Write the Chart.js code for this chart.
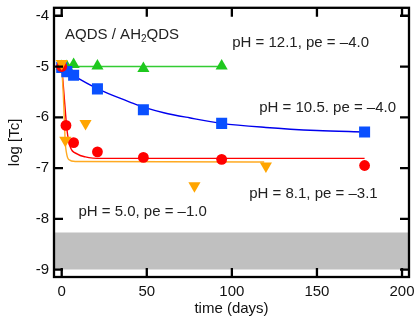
<!DOCTYPE html>
<html>
<head>
<meta charset="utf-8">
<script src="https://cdn.jsdelivr.net/npm/chart.js@4.4.1/dist/chart.umd.min.js"></script>
<style>
html, body { margin: 0; padding: 0; background: #fff; }
canvas { display: block; }
</style>
</head>
<body>
<canvas id="graficoTc" width="417" height="322"></canvas>
<script>
var xTicks = [0, 50, 100, 150, 200];
var yTicks = [-9, -8, -7, -6, -5, -4];

// pontos medidos: tempo (dias) e log [Tc]
var diasVerde = [0, 3, 7, 21, 48, 94];
var logVerde = [-5.0, -5.0, -4.96, -4.99, -5.04, -4.99];

var diasAzul = [0, 3, 7, 21, 48, 94, 178];
var logAzul = [-5.02, -5.1, -5.17, -5.44, -5.85, -6.12, -6.29];

var diasVermelho = [0, 2.5, 7, 21, 48, 94, 178];
var logVermelho = [-5.0, -6.16, -6.5, -6.68, -6.79, -6.83, -6.95];

var diasLaranja = [0, 2.1, 14, 78, 120];
var logLaranja = [-4.94, -6.45, -6.12, -7.35, -6.96];

// curvas ajustadas
var curvaVerdeX = [0, 94];
var curvaVerdeY = [-5.0, -5.0];

var curvaAzulX = [0, 5, 10, 20, 30, 40, 50, 60, 75, 94, 120, 150, 178];
var curvaAzulY = [-5.0, -5.13, -5.24, -5.42, -5.57, -5.7, -5.82, -5.91, -6.01, -6.12, -6.2, -6.26, -6.29];

var curvaVermelhaX = [0, 1.0, 2.1, 3.1, 5, 9, 13.9, 23.7, 178];
var curvaVermelhaY = [-5.0, -5.4, -5.86, -6.25, -6.58, -6.72, -6.78, -6.81, -6.81];

var curvaLaranjaX = [0, 1.0, 1.6, 2.1, 2.8, 4.1, 8, 119];
var curvaLaranjaY = [-5.0, -5.6, -6.1, -6.5, -6.7, -6.83, -6.87, -6.88];

// limite de deteccao (faixa cinza)
var faixaCinza = [-9.0, -8.27];

var xMin = -4.53, xMax = 204.1;
var yMin = -9.146, yMax = -3.843;

var fonte = { family: '"Liberation Sans", Arial, sans-serif', size: 15 };

var notas = [
    { text: 'pH = 12.1, pe = \u20134.0', x: 100.2, y: -4.62 },
    { text: 'pH = 10.5. pe = \u20134.0', x: 116.1, y: -5.89 },
    { text: 'pH = 8.1, pe = \u20133.1', x: 110.2, y: -7.58 },
    { text: 'pH = 5.0, pe = \u20131.0', x: 9.8, y: -7.95 }
];

function pares(xs, ys) {
    var out = [];
    for (var i = 0; i < xs.length; i++) {
        out.push({ x: xs[i], y: ys[i] });
    }
    return out;
}

function curva(xs, ys, cor, ordem) {
    return {
        data: pares(xs, ys),
        borderColor: cor,
        borderWidth: 1.4,
        pointRadius: 0,
        fill: false,
        cubicInterpolationMode: 'monotone',
        order: ordem
    };
}

function marcadores(xs, ys, cor, estilo, raio, rotacao, ordem) {
    return {
        data: pares(xs, ys),
        showLine: false,
        pointStyle: estilo,
        pointRadius: raio,
        pointRotation: rotacao,
        pointBackgroundColor: cor,
        pointBorderWidth: 0,
        borderColor: cor,
        order: ordem
    };
}

var molduraPlugin = {
    id: 'moldura',
    afterDatasetsDraw: function (chart) {
        var ctx = chart.ctx, a = chart.chartArea;
        var sx = chart.scales.x, sy = chart.scales.y;
        ctx.save();
        ctx.strokeStyle = '#000';
        ctx.lineWidth = 2.3;
        ctx.beginPath();
        xTicks.forEach(function (v) {
            var p = sx.getPixelForValue(v);
            ctx.moveTo(p, a.bottom); ctx.lineTo(p, a.bottom - 9);
            ctx.moveTo(p, a.top); ctx.lineTo(p, a.top + 9);
        });
        yTicks.forEach(function (v) {
            var p = sy.getPixelForValue(v);
            ctx.moveTo(a.left, p); ctx.lineTo(a.left + 9, p);
            ctx.moveTo(a.right, p); ctx.lineTo(a.right - 9, p);
        });
        ctx.stroke();
        ctx.strokeRect(a.left, a.top, a.right - a.left, a.bottom - a.top);

        ctx.fillStyle = '#222';
        ctx.textBaseline = 'alphabetic';
        ctx.textAlign = 'left';
        ctx.font = '15px "Liberation Sans", Arial, sans-serif';
        notas.forEach(function (n) {
            ctx.fillText(n.text, sx.getPixelForValue(n.x), sy.getPixelForValue(n.y));
        });

        // AQDS / AH2QDS com subscrito
        var px = sx.getPixelForValue(2.0), py = sy.getPixelForValue(-4.458);
        var t1 = 'AQDS / AH';
        ctx.fillText(t1, px, py);
        px += ctx.measureText(t1).width;
        ctx.font = '10px "Liberation Sans", Arial, sans-serif';
        ctx.fillText('2', px, py + 3);
        px += ctx.measureText('2').width;
        ctx.font = '15px "Liberation Sans", Arial, sans-serif';
        ctx.fillText('QDS', px, py);
        ctx.restore();
    }
};

var datasets = [
    {
        data: [{ x: xMin, y: faixaCinza[1] }, { x: xMax, y: faixaCinza[1] }],
        borderWidth: 0,
        pointRadius: 0,
        backgroundColor: '#c0c0c0',
        fill: { value: faixaCinza[0] },
        order: 100
    },
    curva(curvaVerdeX, curvaVerdeY, '#33cc33', 60),
    curva(curvaAzulX, curvaAzulY, '#0000ee', 59),
    curva(curvaVermelhaX, curvaVermelhaY, '#ff0000', 58),
    curva(curvaLaranjaX, curvaLaranjaY, '#ffaa22', 57),
    marcadores(diasVerde, logVerde, '#1ec81e', 'triangle', 7, 0, 4),
    marcadores(diasAzul, logAzul, '#0a50ff', 'rect', 7.8, 0, 3),
    marcadores(diasVermelho, logVermelho, '#ff0000', 'circle', 5.4, 0, 2),
    marcadores(diasLaranja, logLaranja, '#ffa500', 'triangle', 7, 180, 1)
];

new Chart(document.getElementById('graficoTc'), {
    type: 'line',
    data: { datasets: datasets },
    options: {
        responsive: false,
        animation: false,
        events: [],
        layout: { padding: { left: 0, right: 8, top: 7, bottom: 0 } },
        plugins: { legend: { display: false }, tooltip: { enabled: false } },
        scales: {
            x: {
                type: 'linear',
                min: xMin,
                max: xMax,
                afterBuildTicks: function (s) { s.ticks = xTicks.map(function (v) { return { value: v }; }); },
                afterFit: function (s) { s.height = 45; s.paddingLeft = 0; s.paddingRight = 0; },
                grid: { display: false, drawTicks: false },
                border: { display: false },
                ticks: { autoSkip: false, maxRotation: 0, padding: 6, color: '#111', font: fonte,
                    callback: function (v) { return String(v); } },
                title: { display: true, text: 'time (days)', color: '#111', font: fonte, padding: { top: 0, bottom: 4 } }
            },
            y: {
                type: 'linear',
                min: yMin,
                max: yMax,
                afterBuildTicks: function (s) { s.ticks = yTicks.map(function (v) { return { value: v }; }); },
                afterFit: function (s) { s.width = 54; s.paddingTop = 0; s.paddingBottom = 0; },
                grid: { display: false, drawTicks: false },
                border: { display: false },
                ticks: { autoSkip: false, padding: 5, color: '#111', font: fonte,
                    callback: function (v) { return String(v); } },
                title: { display: true, text: 'log [Tc]', color: '#111', font: fonte, padding: { top: 6, bottom: 0 } }
            }
        }
    },
    plugins: [molduraPlugin]
});
</script>
</body>
</html>
